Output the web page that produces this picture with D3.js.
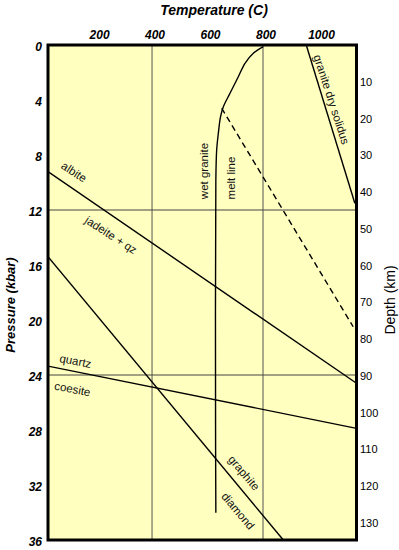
<!DOCTYPE html>
<html>
<head>
<meta charset="utf-8">
<script src="https://cdn.jsdelivr.net/npm/d3@7"></script>
<style>
  html, body { margin: 0; padding: 0; background: #ffffff; }
  svg { display: block; }
  text { font-family: "Liberation Sans", Arial, Helvetica, sans-serif; }
</style>
</head>
<body>
<div id="chart"></div>
<script>
// ---------- data ----------
const tempTicks = [200, 400, 600, 800, 1000];
const pressureTicks = [0, 4, 8, 12, 16, 20, 24, 28, 32, 36];
const depthTicks = [10, 20, 30, 40, 50, 60, 70, 80, 90, 100, 110, 120, 130];
const tempGrid = [400, 800];
const pressureGrid = [12, 24];

// reaction lines as [temperature C, pressure kbar]
const albiteJadeite = [[25, 9.21], [1137, 24.6]];
const quartzCoesite = [[25, 23.35], [1137, 27.88]];
const graphiteDiamond = [[25, 15.4], [871, 35.95]];
const graniteDrySolidus = [[957, 0.07], [1131, 11.51]];
const wetGraniteMelt = [[801, 0.12], [765, 0.6], [735, 1.33], [711, 2.31], [681, 3.51],
  [657, 4.49], [647, 5.21], [639, 6.42], [633, 7.64], [630, 9.82], [629, 27.76], [630, 34.01]];
const meltDashed = [[651, 4.6], [1125, 20.49]];

const labels = [
  { text: "albite", x: 74, y: 172, rot: 33 },
  { text: "jadeite + qz", x: 111, y: 235, rot: 33 },
  { text: "quartz", x: 75.5, y: 361, rot: 11 },
  { text: "coesite", x: 72.5, y: 389, rot: 11 },
  { text: "graphite", x: 244, y: 473, rot: 50 },
  { text: "diamond", x: 238, y: 511, rot: 50 },
  { text: "granite dry solidus", x: 331.5, y: 99.5, rot: 72 },
  { text: "wet granite", x: 203.5, y: 171, rot: -90 },
  { text: "melt line", x: 231, y: 178, rot: -90 }
];

// ---------- layout ----------
const W = 399, H = 550;
const pL = 48, pR = 356.5, pT = 45, pB = 540;

const x = d3.scaleLinear().domain([25, 1137]).range([pL, pR]);
const y = d3.scaleLinear().domain([0, 36]).range([pT, pB]);
const yDepth = d3.scaleLinear().domain([0, 130]).range([45, 523]);

const svg = d3.select("#chart").append("svg")
  .attr("width", W).attr("height", H);

svg.append("defs").append("clipPath").attr("id", "plotclip")
  .append("rect").attr("x", pL).attr("y", pT)
  .attr("width", pR - pL).attr("height", pB - pT);

// background
svg.append("rect").attr("x", pL).attr("y", pT)
  .attr("width", pR - pL).attr("height", pB - pT)
  .attr("fill", "#ffffc0");

const plot = svg.append("g").attr("clip-path", "url(#plotclip)");

// grid lines
plot.selectAll(".vgrid").data(tempGrid).enter().append("line")
  .attr("x1", d => x(d)).attr("x2", d => x(d))
  .attr("y1", pT).attr("y2", pB)
  .attr("stroke", "#555").attr("stroke-width", 1);
plot.selectAll(".hgrid").data(pressureGrid).enter().append("line")
  .attr("x1", pL).attr("x2", pR)
  .attr("y1", d => y(d)).attr("y2", d => y(d))
  .attr("stroke", "#444").attr("stroke-width", 1);

const line = d3.line().x(d => x(d[0])).y(d => y(d[1]));
const curve = d3.line().x(d => x(d[0])).y(d => y(d[1])).curve(d3.curveCatmullRom.alpha(0.5));

[albiteJadeite, quartzCoesite, graphiteDiamond, graniteDrySolidus].forEach(pts => {
  plot.append("path").attr("d", line(pts))
    .attr("fill", "none").attr("stroke", "#000").attr("stroke-width", 1.4);
});
plot.append("path").attr("d", curve(wetGraniteMelt))
  .attr("fill", "none").attr("stroke", "#000").attr("stroke-width", 1.4);
plot.append("path").attr("d", line(meltDashed))
  .attr("fill", "none").attr("stroke", "#000").attr("stroke-width", 1.4)
  .attr("stroke-dasharray", "6,4");

// frame
svg.append("rect").attr("x", pL).attr("y", pT)
  .attr("width", pR - pL).attr("height", pB - pT)
  .attr("fill", "none").attr("stroke", "#000").attr("stroke-width", 3);

// in-plot labels
svg.selectAll(".lbl").data(labels).enter().append("text")
  .attr("transform", d => `translate(${d.x},${d.y}) rotate(${d.rot})`)
  .attr("text-anchor", "middle").attr("dominant-baseline", "central")
  .attr("font-size", 11.5).attr("fill", "#111")
  .text(d => d.text);

// top axis labels
svg.selectAll(".tt").data(tempTicks).enter().append("text")
  .attr("x", d => x(d) + 3).attr("y", 39)
  .attr("text-anchor", "middle")
  .attr("font-size", 12).attr("font-weight", "bold").attr("font-style", "italic")
  .text(d => d);

// left axis labels
svg.selectAll(".pt").data(pressureTicks).enter().append("text")
  .attr("x", 42).attr("y", d => y(d) + 6)
  .attr("text-anchor", "end")
  .attr("font-size", 12).attr("font-weight", "bold").attr("font-style", "italic")
  .text(d => d);

// right axis labels
svg.selectAll(".dt").data(depthTicks).enter().append("text")
  .attr("x", 360).attr("y", d => yDepth(d))
  .attr("dominant-baseline", "central")
  .attr("font-size", 11)
  .text(d => d);

// titles
svg.append("text").attr("x", 214).attr("y", 15)
  .attr("text-anchor", "middle")
  .attr("font-size", 14).attr("font-weight", "bold").attr("font-style", "italic")
  .text("Temperature (C)");
svg.append("text").attr("transform", "translate(10,305) rotate(-90)")
  .attr("text-anchor", "middle").attr("dominant-baseline", "central")
  .attr("font-size", 13).attr("font-weight", "bold").attr("font-style", "italic")
  .text("Pressure (kbar)");
svg.append("text").attr("transform", "translate(390,300) rotate(-90)")
  .attr("text-anchor", "middle").attr("dominant-baseline", "central")
  .attr("font-size", 14)
  .text("Depth (km)");
</script>
</body>
</html>
